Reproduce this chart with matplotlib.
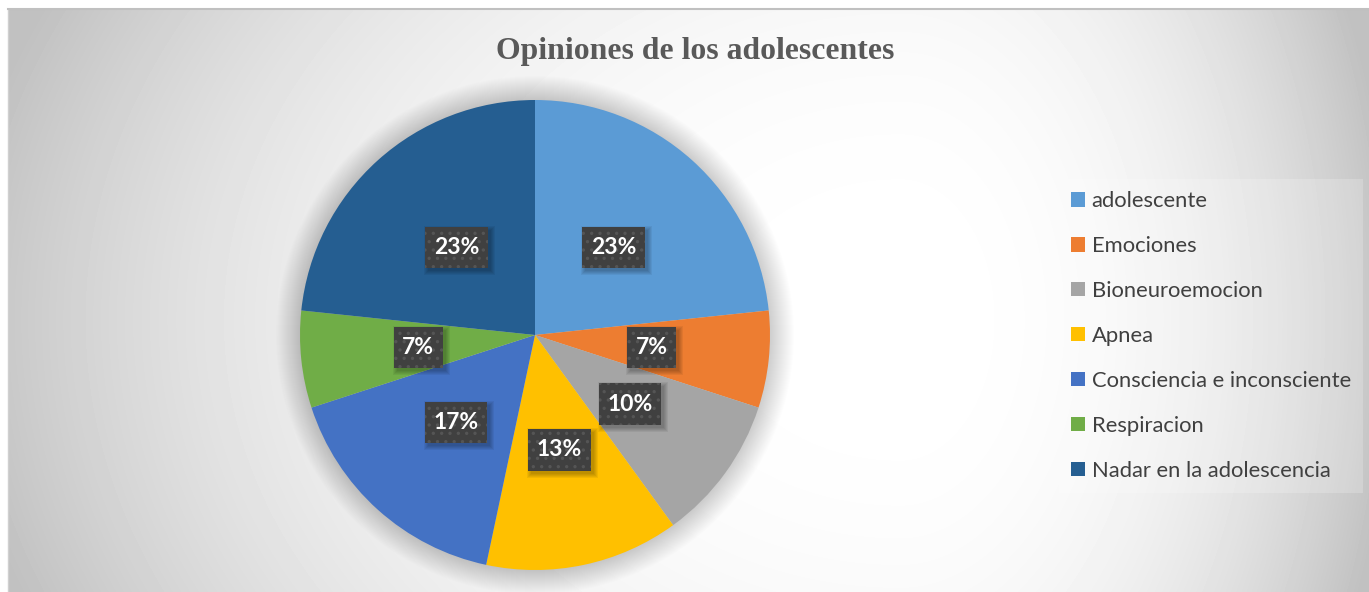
import numpy as np
import matplotlib.pyplot as plt
from matplotlib.patches import Circle, Rectangle
from matplotlib.path import Path
from matplotlib.transforms import IdentityTransform

categorias = ['adolescente', 'Emociones', 'Bioneuroemocion', 'Apnea',
              'Consciencia e inconsciente', 'Respiracion', 'Nadar en la adolescencia']
respuestas = [7, 2, 3, 4, 5, 2, 7]
colores = ['#5B9BD5', '#ED7D31', '#A5A5A5', '#FFC000', '#4472C4', '#70AD47', '#255E91']
titulo = 'Opiniones de los adolescentes'

W, H = 1369, 592
fig = plt.figure(figsize=(W / 100, H / 100), dpi=100)
fig.patch.set_facecolor('white')
ax = fig.add_axes([0, 0, 1, 1])

# fondo degradado (mas claro a la derecha del pastel)
xx, yy = np.meshgrid(np.arange(8, W) + 0.5, np.arange(9, H) + 0.5)
dx = xx - 900.0
sx = np.where(dx < 0, 900.0, 470.0)
d = np.sqrt((dx / sx) ** 2 + ((yy - 320.0) / 700.0) ** 2)
gris = 255 - np.minimum(55 * d ** 2.5, 62)
ax.imshow(gris, cmap='gray', vmin=0, vmax=255, aspect='auto',
          extent=(8, W, 0, H - 9), origin='upper', zorder=0)
ax.plot([8, 8], [0, H - 9], color='#d0d0d0', lw=1, zorder=0.2)
ax.plot([8, W], [H - 9, H - 9], color='#c0c0c0', lw=1.5, zorder=0.2)

cx, cy, r = 535, H - 335, 235

# sombra suave alrededor del pastel
n = 24
for k in range(n, 0, -1):
    ax.add_patch(Circle((cx, cy), r + k, facecolor='black', edgecolor='none',
                        alpha=0.0065, zorder=0.5))

wedges, textos, autotextos = ax.pie(
    respuestas, colors=colores, startangle=90, counterclock=False,
    center=(cx, cy), radius=r, wedgeprops=dict(linewidth=0),
    autopct=lambda p: f'{p:.0f}%', pctdistance=0.5)


def caja(x0, y0, width, height, mutation_size):
    px, py = 0.37 * mutation_size, 0.44 * mutation_size
    return Path([(x0 - px, y0 - py), (x0 + width + px, y0 - py),
                 (x0 + width + px, y0 + height + py), (x0 - px, y0 + height + py),
                 (x0 - px, y0 - py)], closed=True)


plt.rcParams['hatch.linewidth'] = 1.2
for t in autotextos:
    t.set_fontfamily('Lato')
    t.set_fontweight('bold')
    t.set_fontsize(16.5)
    t.set_color('white')
    t.set_zorder(5)
    t.set_bbox(dict(boxstyle=caja, facecolor='#404040',
                    edgecolor='#555555', linewidth=0, hatch='..'))

ax.set_xlim(0, W)
ax.set_ylim(0, H)
ax.set_aspect('auto')
ax.axis('off')

fig.text(695 / W, 1 - 51 / H, titulo, ha='center', va='center',
         fontfamily='Liberation Serif', fontweight='bold', fontsize=22.9,
         color='#595959')

ax.legend(wedges, categorias, loc='upper right',
          bbox_to_anchor=(1363 / W, 1 - 179 / H), bbox_transform=fig.transFigure,
          frameon=True, fancybox=False, facecolor='white', framealpha=0.2,
          edgecolor='none', prop=dict(family='Lato', size=15.8),
          labelcolor='#404040', handlelength=0.64, handleheight=0.64,
          handletextpad=0.3, labelspacing=1.135, borderpad=0.55, borderaxespad=0)

# sombra difusa de las etiquetas, a partir de la caja ya dibujada
fig.canvas.draw()
for t in autotextos:
    bb = t.get_bbox_patch().get_window_extent()
    for e in range(5):
        ax.add_patch(Rectangle((bb.x0 + 3 - e, bb.y0 - 3 - e), bb.width + 2 * e,
                               bb.height + 2 * e, transform=IdentityTransform(),
                               facecolor='black', edgecolor='none', alpha=0.055,
                               zorder=4))

fig.savefig('out.png', dpi=100)
